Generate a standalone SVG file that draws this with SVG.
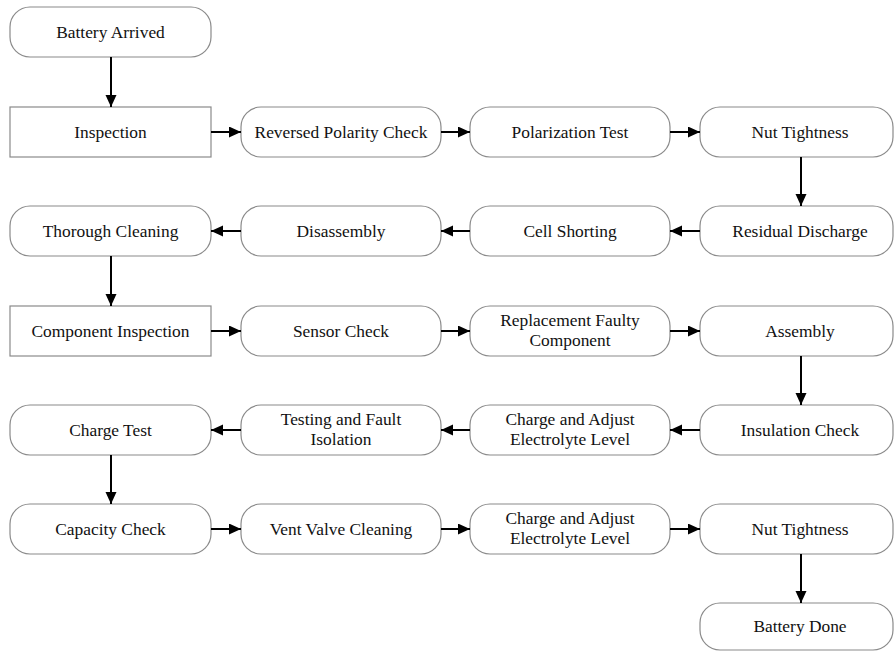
<svg xmlns="http://www.w3.org/2000/svg" width="894" height="652" viewBox="0 0 894 652">
  <style>
    .box { fill: #ffffff; stroke: #8a8a8a; stroke-width: 1.2; }
    .lbl { font-family: "Liberation Serif", "Times New Roman", serif; font-size: 17.4px; fill: #111111; text-anchor: middle; }
    .link { stroke: #000000; stroke-width: 2; fill: none; marker-end: url(#head); }
  </style>
  <defs>
    <marker id="head" markerUnits="userSpaceOnUse" markerWidth="12" markerHeight="12" refX="12" refY="5.5" orient="auto">
      <path d="M0,0 L12,5.5 L0,11 z" fill="#000000"/>
    </marker>
  </defs>
  <rect x="0" y="0" width="894" height="652" fill="#ffffff"/>

  <!-- row 0 -->
  <g id="battery-arrived"><rect class="box" x="10" y="7" width="201" height="50" rx="20"/><text class="lbl" x="110.5" y="37.5">Battery Arrived</text></g>

  <!-- row 1 -->
  <g id="inspection"><rect class="box" x="10" y="107" width="201" height="50"/><text class="lbl" x="110.5" y="137.5">Inspection</text></g>
  <g id="reversed-polarity"><rect class="box" x="241" y="107" width="200" height="50" rx="20"/><text class="lbl" x="341" y="137.5">Reversed Polarity Check</text></g>
  <g id="polarization-test"><rect class="box" x="470" y="107" width="200" height="50" rx="20"/><text class="lbl" x="570" y="137.5">Polarization Test</text></g>
  <g id="nut-tightness-1"><rect class="box" x="700" y="107" width="193" height="50" rx="20"/><text class="lbl" x="800" y="137.5">Nut Tightness</text></g>

  <!-- row 2 -->
  <g id="thorough-cleaning"><rect class="box" x="10" y="206" width="201" height="50" rx="20"/><text class="lbl" x="110.5" y="236.5">Thorough Cleaning</text></g>
  <g id="disassembly"><rect class="box" x="241" y="206" width="200" height="50" rx="20"/><text class="lbl" x="341" y="236.5">Disassembly</text></g>
  <g id="cell-shorting"><rect class="box" x="470" y="206" width="200" height="50" rx="20"/><text class="lbl" x="570" y="236.5">Cell Shorting</text></g>
  <g id="residual-discharge"><rect class="box" x="700" y="206" width="193" height="50" rx="20"/><text class="lbl" x="800" y="236.5">Residual Discharge</text></g>

  <!-- row 3 -->
  <g id="component-inspection"><rect class="box" x="10" y="306" width="201" height="50"/><text class="lbl" x="110.5" y="336.5">Component Inspection</text></g>
  <g id="sensor-check"><rect class="box" x="241" y="306" width="200" height="50" rx="20"/><text class="lbl" x="341" y="336.5">Sensor Check</text></g>
  <g id="replacement"><rect class="box" x="470" y="306" width="200" height="50" rx="20"/><text class="lbl" x="570" y="326">Replacement Faulty</text><text class="lbl" x="570" y="346">Component</text></g>
  <g id="assembly"><rect class="box" x="700" y="306" width="193" height="50" rx="20"/><text class="lbl" x="800" y="336.5">Assembly</text></g>

  <!-- row 4 -->
  <g id="charge-test"><rect class="box" x="10" y="405" width="201" height="50" rx="20"/><text class="lbl" x="110.5" y="435.5">Charge Test</text></g>
  <g id="testing-fault"><rect class="box" x="241" y="405" width="200" height="50" rx="20"/><text class="lbl" x="341" y="425">Testing and Fault</text><text class="lbl" x="341" y="445">Isolation</text></g>
  <g id="charge-adjust-1"><rect class="box" x="470" y="405" width="200" height="50" rx="20"/><text class="lbl" x="570" y="425">Charge and Adjust</text><text class="lbl" x="570" y="445">Electrolyte Level</text></g>
  <g id="insulation-check"><rect class="box" x="700" y="405" width="193" height="50" rx="20"/><text class="lbl" x="800" y="435.5">Insulation Check</text></g>

  <!-- row 5 -->
  <g id="capacity-check"><rect class="box" x="10" y="504" width="201" height="50" rx="20"/><text class="lbl" x="110.5" y="534.5">Capacity Check</text></g>
  <g id="vent-valve"><rect class="box" x="241" y="504" width="200" height="50" rx="20"/><text class="lbl" x="341" y="534.5">Vent Valve Cleaning</text></g>
  <g id="charge-adjust-2"><rect class="box" x="470" y="504" width="200" height="50" rx="20"/><text class="lbl" x="570" y="524">Charge and Adjust</text><text class="lbl" x="570" y="544">Electrolyte Level</text></g>
  <g id="nut-tightness-2"><rect class="box" x="700" y="504" width="193" height="50" rx="20"/><text class="lbl" x="800" y="534.5">Nut Tightness</text></g>

  <!-- row 6 -->
  <g id="battery-done"><rect class="box" x="700" y="603" width="193" height="47" rx="20"/><text class="lbl" x="800" y="632">Battery Done</text></g>

  <!-- connectors -->
  <g id="connectors">
    <line class="link" x1="111" y1="57" x2="111" y2="107"/>
    <line class="link" x1="211" y1="132" x2="241" y2="132"/>
    <line class="link" x1="441" y1="132" x2="470" y2="132"/>
    <line class="link" x1="670" y1="132" x2="700" y2="132"/>
    <line class="link" x1="801" y1="157" x2="801" y2="206"/>
    <line class="link" x1="700" y1="231" x2="670" y2="231"/>
    <line class="link" x1="470" y1="231" x2="441" y2="231"/>
    <line class="link" x1="241" y1="231" x2="211" y2="231"/>
    <line class="link" x1="111" y1="256" x2="111" y2="306"/>
    <line class="link" x1="211" y1="331" x2="241" y2="331"/>
    <line class="link" x1="441" y1="331" x2="470" y2="331"/>
    <line class="link" x1="670" y1="331" x2="700" y2="331"/>
    <line class="link" x1="801" y1="356" x2="801" y2="405"/>
    <line class="link" x1="700" y1="430" x2="670" y2="430"/>
    <line class="link" x1="470" y1="430" x2="441" y2="430"/>
    <line class="link" x1="241" y1="430" x2="211" y2="430"/>
    <line class="link" x1="111" y1="455" x2="111" y2="504"/>
    <line class="link" x1="211" y1="529" x2="241" y2="529"/>
    <line class="link" x1="441" y1="529" x2="470" y2="529"/>
    <line class="link" x1="670" y1="529" x2="700" y2="529"/>
    <line class="link" x1="801" y1="554" x2="801" y2="603"/>
  </g>
</svg>
